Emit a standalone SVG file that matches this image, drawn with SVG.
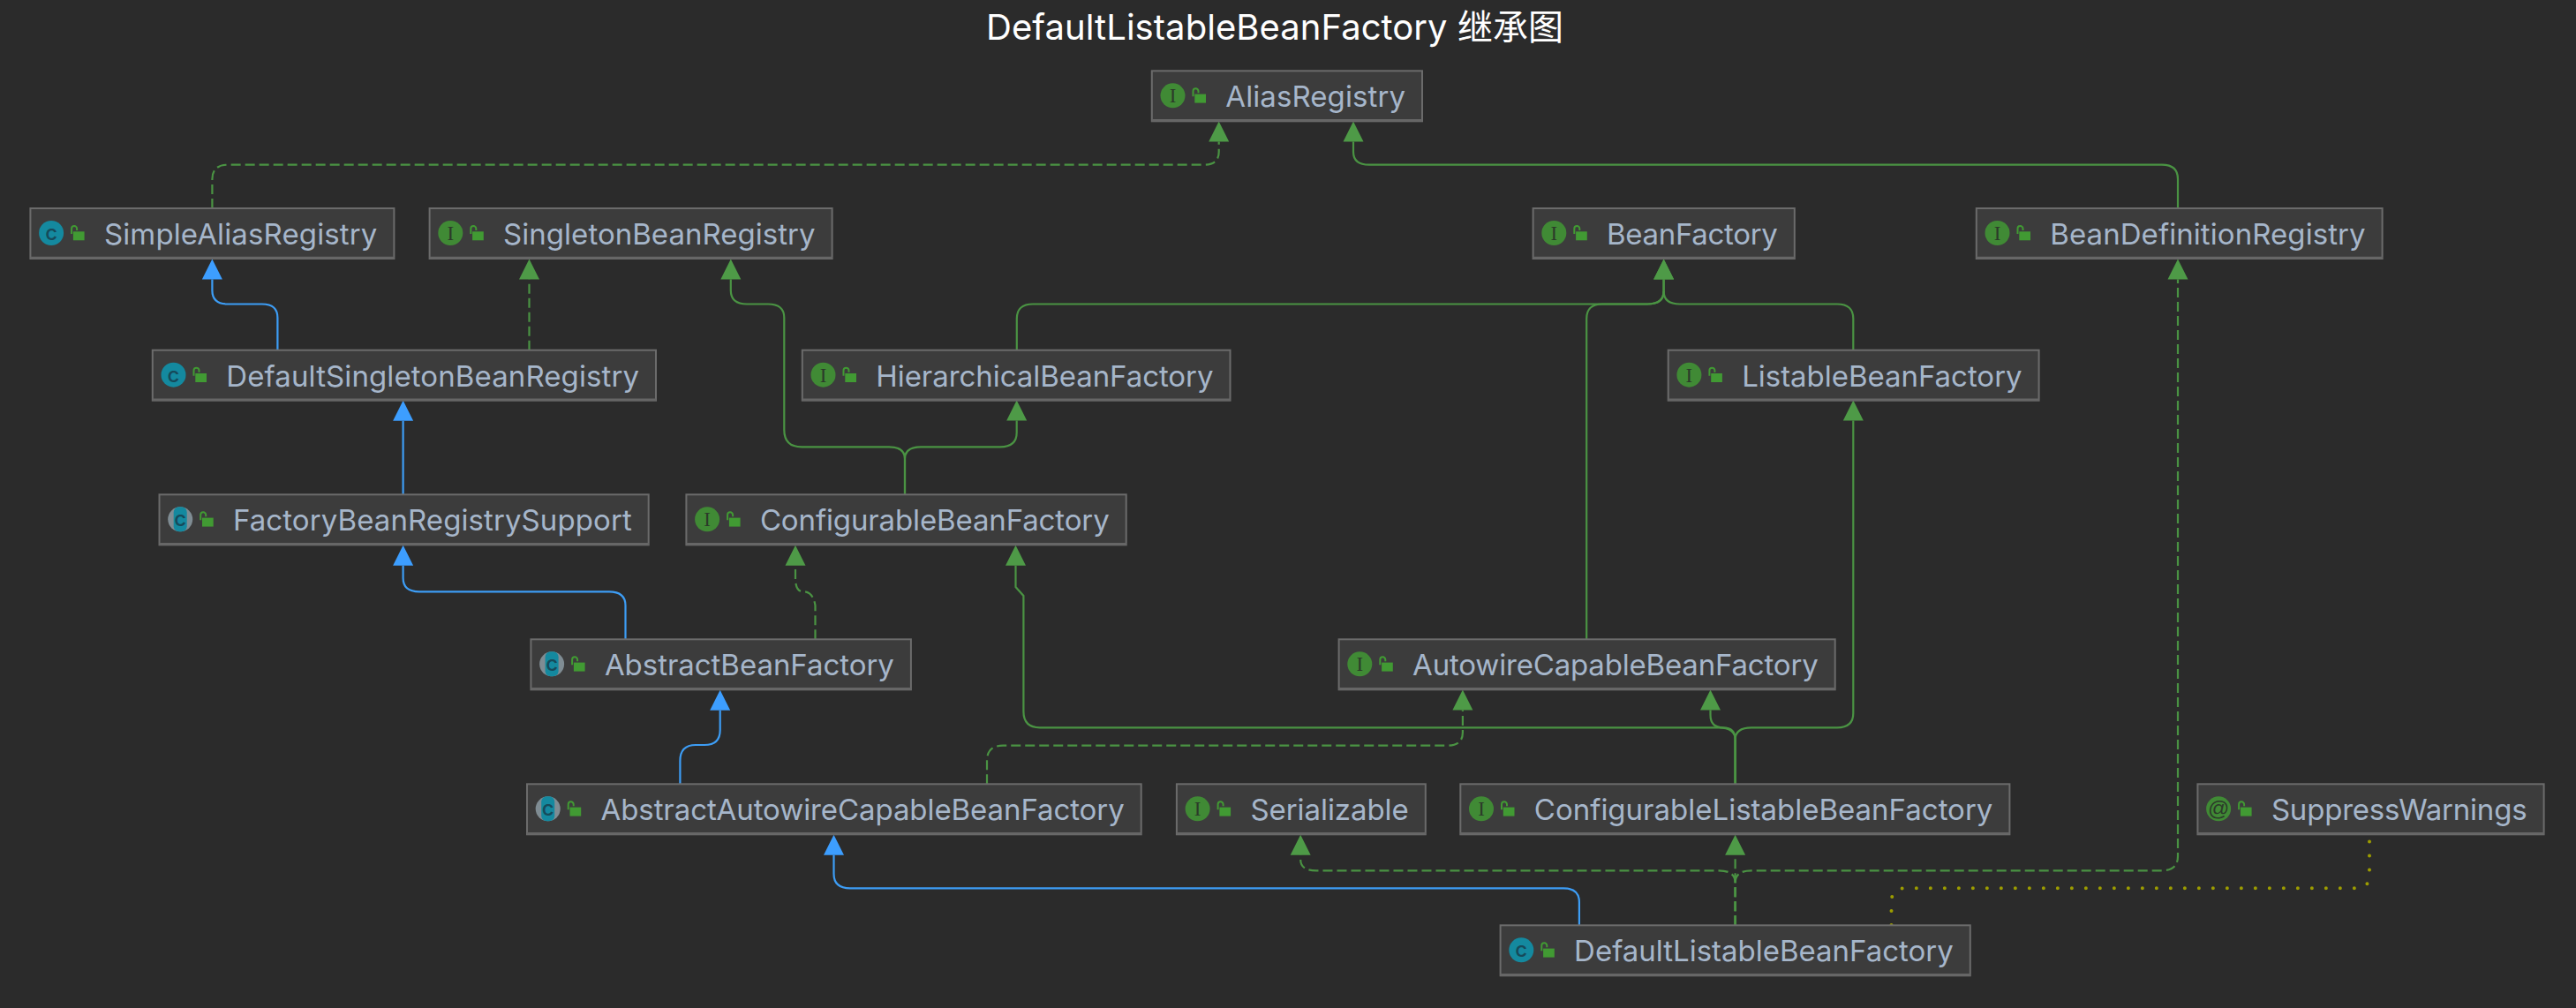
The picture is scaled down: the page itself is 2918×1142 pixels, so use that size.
<svg xmlns="http://www.w3.org/2000/svg" xmlns:xlink="http://www.w3.org/1999/xlink" width="2918" height="1142" viewBox="0 0 2918 1142">
<style>
.box{fill:#3c3c3c;stroke:#6b6b6b;stroke-width:2}
.base{stroke:#666;stroke-width:2.5;fill:none}
.label{font-family:"Inter","Liberation Sans",sans-serif;font-size:33px;fill:#a6b6ca}
.title{font-family:"Inter","Noto Sans CJK SC",sans-serif;font-size:40px;fill:#fff}
.ii{font-family:"Liberation Serif",serif;font-size:23px;fill:#2c3a2a;text-anchor:middle}
.ci{font-family:"Inter","Liberation Sans",sans-serif;font-weight:500;font-size:24px;fill:#164a5a;text-anchor:middle}
.at{font-family:"Liberation Sans",sans-serif;font-size:24px;fill:#2c3a2a;text-anchor:middle}
.green{fill:#408a35}
.blue{fill:#14899f}
.grey{fill:#7f8c93}
.lk{fill:#419a33}
.sh{fill:none;stroke:#419a33;stroke-width:2}
.g{fill:none;stroke:#4a9343;stroke-width:2.2}
.b{fill:none;stroke:#3d9df5;stroke-width:2.2}
.d{stroke-dasharray:11 5}
.y{fill:none;stroke:#9c9c00;stroke-width:4;stroke-linecap:round;stroke-dasharray:0 16}
</style>
<defs>
<marker id="ag" markerUnits="userSpaceOnUse" markerWidth="24" markerHeight="24" refX="12" refY="23.5" orient="0"><path d="M0.5 23.5L12 0.5L23.5 23.5Z" fill="#4e9a47"/></marker>
<marker id="ab" markerUnits="userSpaceOnUse" markerWidth="24" markerHeight="24" refX="12" refY="23.5" orient="0"><path d="M0.5 23.5L12 0.5L23.5 23.5Z" fill="#3d9eff"/></marker>
<g id="lock"><rect class="lk" x="48.5" y="26.3" width="12.7" height="10"/><path class="sh" d="M46.7 29V23a3 3 0 0 1 6 0v2"/></g>
</defs>
<rect width="2918" height="1142" fill="#2b2b2b"/>
<text class="title" x="1117" y="45" textLength="654">DefaultListableBeanFactory 继承图</text>
<g id="connectors">
<path class="g d" marker-end="url(#ag)" d="M240.4 236V203Q240.4 186.7 258 186.7H1364Q1380.7 186.7 1380.7 172V160.5"/>
<path class="g" marker-end="url(#ag)" d="M2467 236V203Q2467 186.7 2449 186.7H1551Q1533 186.7 1533 172V160.5"/>
<path class="b" marker-end="url(#ab)" d="M314.4 396.7V360Q314.4 344.5 297 344.5H258Q240.4 344.5 240.4 329V316.5"/>
<path class="g d" marker-end="url(#ag)" d="M599.5 396.7V316.5"/>
<path class="g" marker-end="url(#ag)" d="M1025 560.3V520Q1025 506.3 1007 506.3H908Q888.3 506.3 888.3 487V360Q888.3 344.5 870 344.5H846Q827.8 344.5 827.8 329V316.5"/>
<path class="g" marker-end="url(#ag)" d="M1025 560.3V520Q1025 506.3 1043 506.3H1133Q1151.7 506.3 1151.7 490V476.5"/>
<path class="g" marker-end="url(#ag)" d="M1151.8 396.7V361Q1151.8 344.5 1170 344.5H1866Q1884.6 344.5 1884.6 330V316.5"/>
<path class="g" marker-end="url(#ag)" d="M2099.3 396.7V361Q2099.3 344.5 2081 344.5H1903Q1884.6 344.5 1884.6 330V316.5"/>
<path class="g" d="M1797.2 724.3V361Q1797.2 344.5 1815 344.5H1866Q1884.6 344.5 1884.6 330"/>
<path class="b" marker-end="url(#ab)" d="M456.6 560.3V476.8"/>
<path class="b" marker-end="url(#ab)" d="M708.5 724.3V686Q708.5 670.3 690 670.3H475Q456.6 670.3 456.6 655V640.8"/>
<path class="g d" marker-end="url(#ag)" d="M923.5 724.3V686Q921 670.3 910 670.3Q901 670.3 901 655V640.8"/>
<path class="b" marker-end="url(#ab)" d="M770.4 888.3V862Q770.4 844 788 844H798Q815.7 844 815.7 827V804.8"/>
<path class="g d" marker-end="url(#ag)" d="M1118 888.3V862Q1118 844.7 1136 844.7H1639Q1656.9 844.7 1656.9 830V804.5"/>
<path class="g" marker-end="url(#ag)" d="M1965.6 888.3V838Q1965.6 824.3 1947 824.3H1178Q1159.4 824.3 1159.4 806V675L1150.5 665V640.8"/>
<path class="g" marker-end="url(#ag)" d="M1965.6 888.3V838Q1965.6 824.3 1952 824.3Q1937.5 824.3 1937.5 810V804.5"/>
<path class="g" marker-end="url(#ag)" d="M1965.6 888.3V838Q1965.6 824.3 1984 824.3H2081Q2099.3 824.3 2099.3 808V476.5"/>
<path class="b" marker-end="url(#ab)" d="M1788.9 1048.3V1022Q1788.9 1006.3 1771 1006.3H963Q944.5 1006.3 944.5 990V968.8"/>
<path class="g d" marker-end="url(#ag)" d="M1965.6 1048.3V1000Q1965.6 986.3 1947 986.3H1491Q1473.2 986.3 1473.2 974V968.8"/>
<path class="g d" marker-end="url(#ag)" d="M1965.6 1048.3V968.8"/>
<path class="g d" marker-end="url(#ag)" d="M1965.6 1048.3V1000Q1965.6 986.3 1984 986.3H2449Q2467 986.3 2467 970V316.5"/>
<path class="y" d="M2142.5 1048V1022Q2142.5 1006.3 2158 1006.3H2668Q2684 1006.3 2684 992V945"/>
</g>
<g id="node-AliasRegistry" transform="translate(1304.8 80.3)"><rect class="box" width="306.2" height="57"/><path class="base" d="M0 56H306.2"/><circle class="green" cx="23.7" cy="28" r="14"/><text class="ii" x="23.7" y="36">I</text><use xlink:href="#lock" href="#lock"/><text class="label" x="83.5" y="41" textLength="203.7">AliasRegistry</text></g>
<g id="node-SimpleAliasRegistry" transform="translate(34.4 236)"><rect class="box" width="412" height="57"/><path class="base" d="M0 56H412"/><circle class="blue" cx="23.7" cy="28" r="14"/><text class="ci" x="23.7" y="36">c</text><use xlink:href="#lock" href="#lock"/><text class="label" x="83.5" y="41" textLength="309.5">SimpleAliasRegistry</text></g>
<g id="node-SingletonBeanRegistry" transform="translate(486.6 236)"><rect class="box" width="456" height="57"/><path class="base" d="M0 56H456"/><circle class="green" cx="23.7" cy="28" r="14"/><text class="ii" x="23.7" y="36">I</text><use xlink:href="#lock" href="#lock"/><text class="label" x="83.5" y="41" textLength="353.5">SingletonBeanRegistry</text></g>
<g id="node-BeanFactory" transform="translate(1736.6 236)"><rect class="box" width="296.2" height="57"/><path class="base" d="M0 56H296.2"/><circle class="green" cx="23.7" cy="28" r="14"/><text class="ii" x="23.7" y="36">I</text><use xlink:href="#lock" href="#lock"/><text class="label" x="83.5" y="41" textLength="193.7">BeanFactory</text></g>
<g id="node-BeanDefinitionRegistry" transform="translate(2238.8 236)"><rect class="box" width="459.8" height="57"/><path class="base" d="M0 56H459.8"/><circle class="green" cx="23.7" cy="28" r="14"/><text class="ii" x="23.7" y="36">I</text><use xlink:href="#lock" href="#lock"/><text class="label" x="83.5" y="41" textLength="357.3">BeanDefinitionRegistry</text></g>
<g id="node-DefaultSingletonBeanRegistry" transform="translate(172.8 396.7)"><rect class="box" width="570.2" height="57"/><path class="base" d="M0 56H570.2"/><circle class="blue" cx="23.7" cy="28" r="14"/><text class="ci" x="23.7" y="36">c</text><use xlink:href="#lock" href="#lock"/><text class="label" x="83.5" y="41" textLength="467.7">DefaultSingletonBeanRegistry</text></g>
<g id="node-HierarchicalBeanFactory" transform="translate(908.8 396.7)"><rect class="box" width="484.7" height="57"/><path class="base" d="M0 56H484.7"/><circle class="green" cx="23.7" cy="28" r="14"/><text class="ii" x="23.7" y="36">I</text><use xlink:href="#lock" href="#lock"/><text class="label" x="83.5" y="41" textLength="382.2">HierarchicalBeanFactory</text></g>
<g id="node-ListableBeanFactory" transform="translate(1889.7 396.7)"><rect class="box" width="419.9" height="57"/><path class="base" d="M0 56H419.9"/><circle class="green" cx="23.7" cy="28" r="14"/><text class="ii" x="23.7" y="36">I</text><use xlink:href="#lock" href="#lock"/><text class="label" x="83.5" y="41" textLength="317.4">ListableBeanFactory</text></g>
<g id="node-FactoryBeanRegistrySupport" transform="translate(180.5 560.3)"><rect class="box" width="554.2" height="57"/><path class="base" d="M0 56H554.2"/><circle class="grey" cx="23.7" cy="28" r="14"/><rect class="blue" x="16.2" y="14" width="15" height="28" rx="6"/><text class="ci" x="23.7" y="36">c</text><use xlink:href="#lock" href="#lock"/><text class="label" x="83.5" y="41" textLength="451.7">FactoryBeanRegistrySupport</text></g>
<g id="node-ConfigurableBeanFactory" transform="translate(777.4 560.3)"><rect class="box" width="498.3" height="57"/><path class="base" d="M0 56H498.3"/><circle class="green" cx="23.7" cy="28" r="14"/><text class="ii" x="23.7" y="36">I</text><use xlink:href="#lock" href="#lock"/><text class="label" x="83.5" y="41" textLength="395.8">ConfigurableBeanFactory</text></g>
<g id="node-AbstractBeanFactory" transform="translate(601.4 724.3)"><rect class="box" width="430.5" height="57"/><path class="base" d="M0 56H430.5"/><circle class="grey" cx="23.7" cy="28" r="14"/><rect class="blue" x="16.2" y="14" width="15" height="28" rx="6"/><text class="ci" x="23.7" y="36">c</text><use xlink:href="#lock" href="#lock"/><text class="label" x="83.5" y="41" textLength="328">AbstractBeanFactory</text></g>
<g id="node-AutowireCapableBeanFactory" transform="translate(1516.6 724.3)"><rect class="box" width="562.1" height="57"/><path class="base" d="M0 56H562.1"/><circle class="green" cx="23.7" cy="28" r="14"/><text class="ii" x="23.7" y="36">I</text><use xlink:href="#lock" href="#lock"/><text class="label" x="83.5" y="41" textLength="459.6">AutowireCapableBeanFactory</text></g>
<g id="node-AbstractAutowireCapableBeanFactory" transform="translate(597 888.3)"><rect class="box" width="695.7" height="57"/><path class="base" d="M0 56H695.7"/><circle class="grey" cx="23.7" cy="28" r="14"/><rect class="blue" x="16.2" y="14" width="15" height="28" rx="6"/><text class="ci" x="23.7" y="36">c</text><use xlink:href="#lock" href="#lock"/><text class="label" x="83.5" y="41" textLength="593.2">AbstractAutowireCapableBeanFactory</text></g>
<g id="node-Serializable" transform="translate(1332.9 888.3)"><rect class="box" width="281.9" height="57"/><path class="base" d="M0 56H281.9"/><circle class="green" cx="23.7" cy="28" r="14"/><text class="ii" x="23.7" y="36">I</text><use xlink:href="#lock" href="#lock"/><text class="label" x="83.5" y="41" textLength="179.4">Serializable</text></g>
<g id="node-ConfigurableListableBeanFactory" transform="translate(1654.3 888.3)"><rect class="box" width="622.1" height="57"/><path class="base" d="M0 56H622.1"/><circle class="green" cx="23.7" cy="28" r="14"/><text class="ii" x="23.7" y="36">I</text><use xlink:href="#lock" href="#lock"/><text class="label" x="83.5" y="41" textLength="519.6">ConfigurableListableBeanFactory</text></g>
<g id="node-SuppressWarnings" transform="translate(2489.4 888.3)"><rect class="box" width="392.2" height="57"/><path class="base" d="M0 56H392.2"/><circle class="green" cx="23.7" cy="28" r="14"/><text class="at" x="23.7" y="36">@</text><use xlink:href="#lock" href="#lock"/><text class="label" x="83.5" y="41" textLength="289.7">SuppressWarnings</text></g>
<g id="node-DefaultListableBeanFactory" transform="translate(1699.6 1048.3)"><rect class="box" width="532.2" height="57"/><path class="base" d="M0 56H532.2"/><circle class="blue" cx="23.7" cy="28" r="14"/><text class="ci" x="23.7" y="36">c</text><use xlink:href="#lock" href="#lock"/><text class="label" x="83.5" y="41" textLength="429.7">DefaultListableBeanFactory</text></g>
</svg>
